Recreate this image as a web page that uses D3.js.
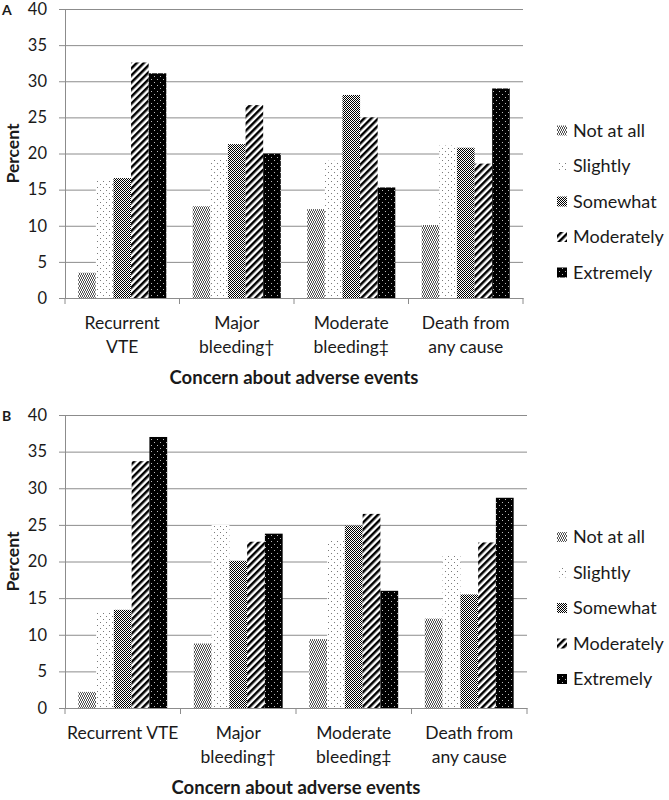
<!DOCTYPE html>
<html><head><meta charset="utf-8">
<script src="https://cdn.jsdelivr.net/npm/d3@7"></script>
<style>
body{margin:0;background:#fff}
svg{display:block}
text{font-family:Lato,"Noto Sans",sans-serif;fill:#1a1a1a}
</style>
</head><body>
<svg id="chart" width="669" height="800"></svg>
<script>
// ---------- DATA ----------
const series = ["Not at all", "Slightly", "Somewhat", "Moderately", "Extremely"];
const categoriesA = ["Recurrent\nVTE", "Major\nbleeding†", "Moderate\nbleeding‡", "Death from\nany cause"];
const categoriesB = ["Recurrent VTE", "Major\nbleeding†", "Moderate\nbleeding‡", "Death from\nany cause"];
const yTicks = [0, 5, 10, 15, 20, 25, 30, 35, 40];

const notAtAllA   = [3.5, 12.7, 12.3, 10.1];
const slightlyA   = [16.3, 19.1, 19.0, 21.1];
const somewhatA   = [16.6, 21.3, 28.1, 20.8];
const moderatelyA = [32.6, 26.7, 25.0, 18.6];
const extremelyA  = [31.1, 20.0, 15.3, 29.0];

const notAtAllB   = [2.2, 8.8, 9.4, 12.2];
const slightlyB   = [13.0, 25.0, 22.8, 20.8];
const somewhatB   = [13.4, 20.1, 24.9, 15.5];
const moderatelyB = [33.7, 22.7, 26.5, 22.6];
const extremelyB  = [37.0, 23.8, 16.0, 28.7];

const xTitle = "Concern about adverse events";
const yTitle = "Percent";

// ---------- PATTERNS ----------
const svg = d3.select("#chart");
const defs = svg.append("defs");
const patId = ["p-notatall", "p-slightly", "p-somewhat", "p-moderately", "p-extremely"];

function pix(pat, pts, color) {
  pts.forEach(([px, py]) => pat.append("rect").attr("x", px).attr("y", py).attr("width", 1).attr("height", 1).attr("fill", color));
}

// Not at all: gray herringbone weave
let p = defs.append("pattern").attr("id", patId[0]).attr("patternUnits", "userSpaceOnUse").attr("width", 4).attr("height", 4);
p.append("rect").attr("width", 4).attr("height", 4).attr("fill", "#fff");
pix(p, [[0,0],[1,1],[2,0],[3,1],[0,3],[1,2],[2,3],[3,2]], "#555");

// Slightly: sparse gray dots
p = defs.append("pattern").attr("id", patId[1]).attr("patternUnits", "userSpaceOnUse").attr("width", 6).attr("height", 6);
p.append("rect").attr("width", 6).attr("height", 6).attr("fill", "#fff");
pix(p, [[1,1],[4,4]], "#7a7a7a");

// Somewhat: fine checkerboard
p = defs.append("pattern").attr("id", patId[2]).attr("patternUnits", "userSpaceOnUse").attr("width", 2).attr("height", 2);
p.append("rect").attr("width", 2).attr("height", 2).attr("fill", "#fff");
pix(p, [[0,0],[1,1]], "#000");

// Moderately: wide diagonal stripes "/"
p = defs.append("pattern").attr("id", patId[3]).attr("patternUnits", "userSpaceOnUse").attr("width", 5).attr("height", 5)
  .attr("patternTransform", "rotate(45)");
p.append("rect").attr("width", 5).attr("height", 5).attr("fill", "#fff");
p.append("rect").attr("x", 0).attr("y", 0).attr("width", 2.5).attr("height", 5).attr("fill", "#000");

// Extremely: black with sparse light dots
p = defs.append("pattern").attr("id", patId[4]).attr("patternUnits", "userSpaceOnUse").attr("width", 6).attr("height", 6);
p.append("rect").attr("width", 6).attr("height", 6).attr("fill", "#000");
pix(p, [[1,1],[4,4]], "#bbb");

// ---------- PANEL ----------
function drawPanel(cfg) {
  const g = svg.append("g");
  const y = d3.scaleLinear().domain([0, 40]).range([cfg.bottom, cfg.top]);
  const x0 = d3.scaleBand().domain(cfg.cats).range([cfg.left, cfg.right]);
  const x1 = d3.scaleBand().domain(series).range([0, x0.bandwidth()]).paddingOuter(0.75);
  const grid = "#8c8c8c";

  // y axis with gridlines
  const ya = g.append("g").attr("transform", `translate(${cfg.left},0)`)
    .call(d3.axisLeft(y).tickValues(yTicks).tickSize(-(cfg.right - cfg.left)).tickSizeOuter(0).tickPadding(18));
  ya.select(".domain").attr("stroke", grid);
  ya.selectAll(".tick line").attr("stroke", grid).attr("x1", -6);
  ya.selectAll(".tick text").attr("font-family", "Lato, sans-serif").attr("font-size", 16.5).attr("fill", "#1a1a1a");

  // bars
  const cols = [cfg.data[0], cfg.data[1], cfg.data[2], cfg.data[3], cfg.data[4]];
  series.forEach((s, si) => {
    g.append("g").selectAll("rect").data(cols[si]).join("rect")
      .attr("x", (d, i) => x0(cfg.cats[i]) + x1(s))
      .attr("width", x1.bandwidth())
      .attr("y", d => y(d))
      .attr("height", d => y(0) - y(d))
      .attr("fill", `url(#${patId[si]})`);
  });

  // x axis line and category ticks
  const xa = g.append("g").attr("transform", `translate(0,${cfg.bottom})`)
    .call(d3.axisBottom(x0).tickSize(0).tickSizeOuter(0).tickFormat(""));
  xa.select(".domain").attr("stroke", grid);
  const bounds = cfg.cats.map(c => x0(c)).concat([cfg.right]);
  g.append("g").selectAll("line").data(bounds).join("line")
    .attr("x1", d => d).attr("x2", d => d)
    .attr("y1", cfg.bottom).attr("y2", cfg.bottom + 6)
    .attr("stroke", grid);

  // category labels
  cfg.cats.forEach(c => {
    const t = g.append("text").attr("text-anchor", "middle")
      .attr("x", x0(c) + x0.bandwidth() / 2).attr("y", cfg.bottom + 31)
      .attr("font-size", 17.5);
    c.split("\n").forEach((line, li) => {
      t.append("tspan").attr("x", x0(c) + x0.bandwidth() / 2).attr("dy", li === 0 ? 0 : 23.5).text(line);
    });
  });

  // x title
  g.append("text").attr("text-anchor", "middle").attr("font-weight", "bold").attr("font-size", 18.5)
    .attr("x", (cfg.left + cfg.right) / 2).attr("y", cfg.bottom + 86).text(xTitle);

  // y title
  g.append("text").attr("text-anchor", "middle").attr("font-weight", "bold").attr("font-size", 17.5)
    .attr("transform", `translate(${19},${(cfg.top + cfg.bottom) / 2}) rotate(-90)`).text(yTitle);

  // panel letter
  g.append("text").attr("font-weight", "bold").attr("font-size", 14)
    .attr("x", 2).attr("y", cfg.top + 6).text(cfg.letter);

  // legend
  series.forEach((s, si) => {
    const cy = cfg.legendY0 + si * 35.5;
    g.append("rect").attr("x", 557).attr("y", cy - 5).attr("width", 10).attr("height", 10)
      .attr("fill", `url(#${patId[si]})`);
    g.append("text").attr("x", 573).attr("y", cy).attr("dy", "0.35em").attr("font-size", 18).text(s);
  });
}

drawPanel({
  letter: "A", top: 9, bottom: 298, left: 65, right: 523, cats: categoriesA,
  data: [notAtAllA, slightlyA, somewhatA, moderatelyA, extremelyA], legendY0: 130.5
});
drawPanel({
  letter: "B", top: 415, bottom: 708, left: 65, right: 527, cats: categoriesB,
  data: [notAtAllB, slightlyB, somewhatB, moderatelyB, extremelyB], legendY0: 537
});
</script>
</body></html>
